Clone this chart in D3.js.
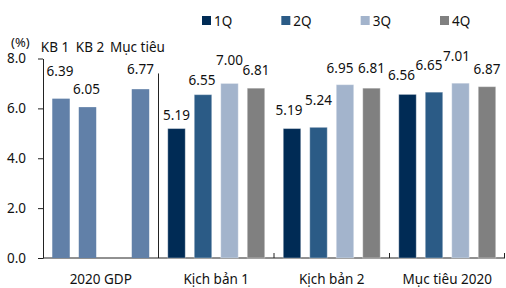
<!DOCTYPE html>
<html>
<head>
<meta charset="utf-8">
<script src="https://cdn.jsdelivr.net/npm/d3@7"></script>
<style>
  body { margin: 0; background: #fff; }
  svg { display: block; font-family: "Noto Sans", sans-serif; }
  text { fill: #111; }
</style>
</head>
<body>
<svg id="chart" width="506" height="288"></svg>
<script>
// left panel: 2020 GDP by scenario
const leftSlots = ["KB 1", "KB 2", "", "Mục tiêu"];
const leftValues = [6.39, 6.05, null, 6.77];
const leftTitle = "2020 GDP";

// right panel: quarterly by scenario
const groups = ["Kịch bản 1", "Kịch bản 2", "Mục tiêu 2020"];
const quarters = ["1Q", "2Q", "3Q", "4Q"];
const q1 = [5.19, 5.19, 6.56];
const q2 = [6.55, 5.24, 6.65];
const q3 = [7.00, 6.95, 7.01];
const q4 = [6.81, 6.81, 6.87];
const yTicks = [0, 2, 4, 6, 8];

// label nudges (px) to mimic the hand-placed labels: [dx, gap above bar]
const leftNudge = [[-1, 23], [-1, 13], [0, 0], [0, 15]];
const slotNudge = [-6, 2.5, 0, -3];
const rightNudge = [
  [[0, 9], [-1, 10], [0, 18], [0, 13]],
  [[-3, 14], [0, 22], [-5, 12], [0, 15]],
  [[-6, 14], [-5, 22], [-4, 22], [0, 13]]
];

const colors = ["#002b55", "#2b5b86", "#a3b4cc", "#808080"];
const leftColor = "#6180a8";

const svg = d3.select("#chart");
const margin = {top: 58.5, left: 43, right: 1, bottom: 30};
const W = 506, H = 288;
const y0 = H - margin.bottom;

const y = d3.scaleLinear().domain([0, 8]).range([y0, margin.top]);

const outer = d3.scaleBand()
  .domain([leftTitle].concat(groups))
  .range([margin.left, W - margin.right]);

const inner = d3.scaleBand()
  .domain(d3.range(4))
  .range([0, outer.bandwidth()])
  .paddingInner(0.34)
  .paddingOuter(0.35);

// y axis
const yAxis = svg.append("g")
  .attr("transform", "translate(" + margin.left + ",0)")
  .call(d3.axisLeft(y).tickValues(yTicks).tickFormat(d3.format(".1f"))
    .tickSize(5).tickSizeOuter(0).tickPadding(12));
yAxis.select(".domain").attr("stroke", "#222");
yAxis.selectAll(".tick line").attr("stroke", "#222");
yAxis.selectAll("text").attr("font-size", 13.5).attr("font-family", "Noto Sans").attr("fill", "#111");

svg.append("text").attr("x", 11).attr("y", 46.5).attr("font-size", 13).text("(%)");

// x axis base line
svg.append("line")
  .attr("x1", margin.left).attr("x2", W - margin.right)
  .attr("y1", y0).attr("y2", y0)
  .attr("stroke", "#222");

// panel separator
svg.append("line")
  .attr("x1", outer(groups[0])).attr("x2", outer(groups[0]))
  .attr("y1", y(7.4)).attr("y2", y0)
  .attr("stroke", "#222");

// group ticks in right panel
groups.slice(1).map(g => outer(g)).concat([W - margin.right - 0.5]).forEach(xx => {
  svg.append("line")
    .attr("x1", xx).attr("x2", xx)
    .attr("y1", y0 - 5).attr("y2", y0)
    .attr("stroke", "#222");
});

// left bars
const lx = outer(leftTitle);
const leftData = leftValues.map((v, i) => ({v, i})).filter(d => d.v != null);
svg.selectAll(".lbar").data(leftData).enter().append("rect")
  .attr("class", "lbar")
  .attr("x", d => lx + inner(d.i))
  .attr("y", d => y(d.v))
  .attr("width", inner.bandwidth())
  .attr("height", d => y0 - y(d.v))
  .attr("fill", leftColor);

svg.selectAll(".llab").data(leftData).enter().append("text")
  .attr("class", "llab")
  .attr("x", d => lx + inner(d.i) + inner.bandwidth() / 2 + leftNudge[d.i][0])
  .attr("y", d => y(d.v) - leftNudge[d.i][1])
  .attr("text-anchor", "middle")
  .attr("font-size", 13.5)
  .text(d => d3.format(".2f")(d.v));

svg.selectAll(".slot").data(leftSlots.map((s, i) => ({s, i})).filter(d => d.s)).enter().append("text")
  .attr("class", "slot")
  .attr("x", d => lx + inner(d.i) + inner.bandwidth() / 2 + slotNudge[d.i])
  .attr("y", 52)
  .attr("text-anchor", "middle")
  .attr("font-size", 13.5)
  .text(d => d.s);

// right bars
const series = [q1, q2, q3, q4];
const rightData = [];
groups.forEach((g, gi) => {
  series.forEach((s, qi) => rightData.push({g, gi, qi, v: s[gi]}));
});

svg.selectAll(".rbar").data(rightData).enter().append("rect")
  .attr("class", "rbar")
  .attr("x", d => outer(d.g) + inner(d.qi))
  .attr("y", d => y(d.v))
  .attr("width", inner.bandwidth())
  .attr("height", d => y0 - y(d.v))
  .attr("fill", d => colors[d.qi])
  .attr("stroke", "rgba(255,255,255,0.35)")
  .attr("stroke-width", 1);

svg.selectAll(".rlab").data(rightData).enter().append("text")
  .attr("class", "rlab")
  .attr("x", d => outer(d.g) + inner(d.qi) + inner.bandwidth() / 2 + rightNudge[d.gi][d.qi][0])
  .attr("y", d => y(d.v) - rightNudge[d.gi][d.qi][1])
  .attr("text-anchor", "middle")
  .attr("font-size", 13.5)
  .text(d => d3.format(".2f")(d.v));

// category labels
svg.selectAll(".xlab").data(outer.domain()).enter().append("text")
  .attr("class", "xlab")
  .attr("x", d => outer(d) + outer.bandwidth() / 2)
  .attr("y", 284)
  .attr("text-anchor", "middle")
  .attr("font-size", 13.5)
  .text(d => d);

// legend
const legX = d3.scaleLinear().domain([0, 3]).range([202, 440]);
const leg = svg.selectAll(".leg").data(quarters).enter().append("g")
  .attr("class", "leg")
  .attr("transform", (d, i) => "translate(" + legX(i) + ",16)");
leg.append("rect").attr("width", 9).attr("height", 9).attr("fill", (d, i) => colors[i]);
leg.append("text").attr("x", 12).attr("y", 9.5).attr("font-size", 13.5).text(d => d);
</script>
</body>
</html>
